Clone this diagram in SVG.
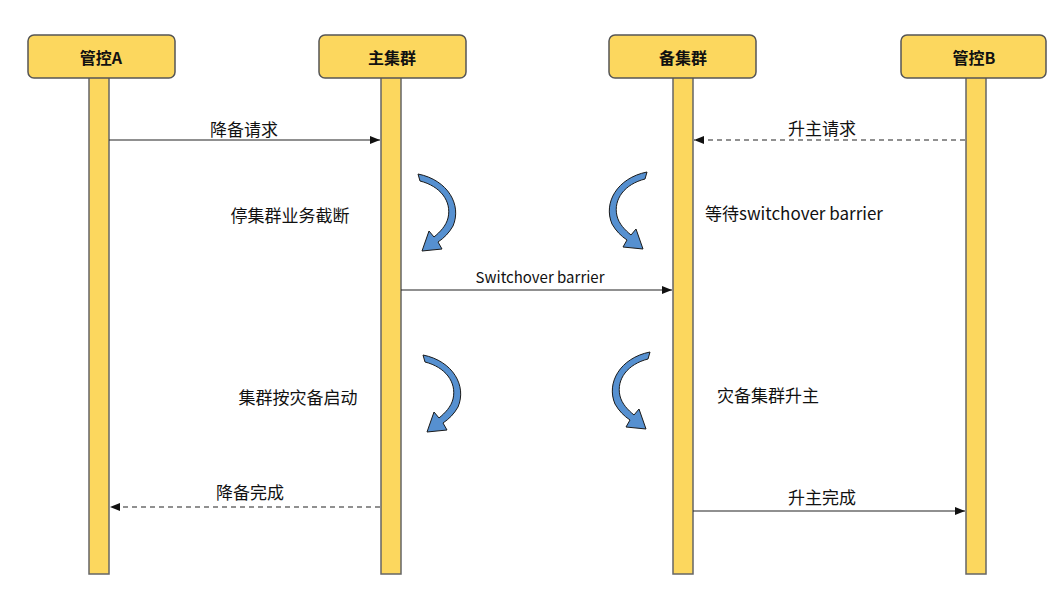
<svg xmlns="http://www.w3.org/2000/svg" xmlns:xlink="http://www.w3.org/1999/xlink" width="1058" height="592" viewBox="0 0 1058 592">
<style>
.life{fill:#FCD75E;stroke:#666;stroke-width:1.5}
.head{fill:#FCD75E;stroke:#555;stroke-width:1.5}
.ht{font-family:"Noto Sans CJK SC","Liberation Sans",sans-serif;font-size:16px;font-weight:bold;fill:#111;text-anchor:middle;dominant-baseline:central}
.t{font-family:"Noto Sans CJK SC","Liberation Sans",sans-serif;font-size:17px;fill:#111;text-anchor:middle;dominant-baseline:central}
.msg{stroke:#222;stroke-width:1.2;fill:none}
.dash{stroke-dasharray:5 4}
.curl{fill:#5690D0;stroke:#1a1a1a;stroke-width:1}
</style>
<defs>
<marker id="ah" viewBox="0 0 10 10" refX="10" refY="5" markerWidth="10" markerHeight="10" markerUnits="userSpaceOnUse" orient="auto">
<path d="M0,1 L10,5 L0,9 Z" fill="#111"/>
</marker>
<path id="curl" d="M418,174 C448,180 462,205 453,226 C449,233 444,238 438,242 L442,249 L422,251 L429,231 L434,237 C440,232 446,226 448,218 C452,201 440,186 420,181 Z"/>
</defs>
<rect width="1058" height="592" fill="#fff"/>
<g id="lifeline-a">
<rect class="life" x="89" y="76" width="20" height="498"/>
<rect class="head" x="28" y="35" width="147" height="43" rx="6"/>
<text class="ht" x="101" y="57">管控A</text>
</g>
<g id="lifeline-main">
<rect class="life" x="381" y="76" width="20" height="498"/>
<rect class="head" x="319" y="35" width="147" height="43" rx="6"/>
<text class="ht" x="392" y="57">主集群</text>
</g>
<g id="lifeline-standby">
<rect class="life" x="673" y="76" width="20" height="498"/>
<rect class="head" x="609" y="35" width="147" height="43" rx="6"/>
<text class="ht" x="683" y="57">备集群</text>
</g>
<g id="lifeline-b">
<rect class="life" x="966" y="76" width="20" height="498"/>
<rect class="head" x="901" y="35" width="145" height="43" rx="6"/>
<text class="ht" x="974" y="57">管控B</text>
</g>
<g id="connectors">
<line class="msg" x1="109" y1="140" x2="380" y2="140" marker-end="url(#ah)"/>
<line class="msg dash" x1="965" y1="140" x2="694" y2="140" marker-end="url(#ah)"/>
<line class="msg" x1="401" y1="290" x2="672" y2="290" marker-end="url(#ah)"/>
<line class="msg dash" x1="380" y1="507" x2="110" y2="507" marker-end="url(#ah)"/>
<line class="msg" x1="693" y1="511" x2="965" y2="511" marker-end="url(#ah)"/>
</g>
<g id="curls">
<use xlink:href="#curl" class="curl"/>
<use xlink:href="#curl" class="curl" transform="translate(5,181)"/>
<use xlink:href="#curl" class="curl" transform="translate(1065,-2) scale(-1,1)"/>
<use xlink:href="#curl" class="curl" transform="translate(1068,178) scale(-1,1)"/>
</g>
<g id="labels">
<text class="t" x="244" y="128">降备请求</text>
<text class="t" x="822" y="127">升主请求</text>
<text class="t" x="290" y="214">停集群业务截断</text>
<text class="t" x="794" y="212">等待switchover barrier</text>
<text class="t" x="540" y="276" style="font-size:15px">Switchover barrier</text>
<text class="t" x="298" y="396">集群按灾备启动</text>
<text class="t" x="768" y="394">灾备集群升主</text>
<text class="t" x="250" y="491">降备完成</text>
<text class="t" x="822" y="496">升主完成</text>
</g>
</svg>
